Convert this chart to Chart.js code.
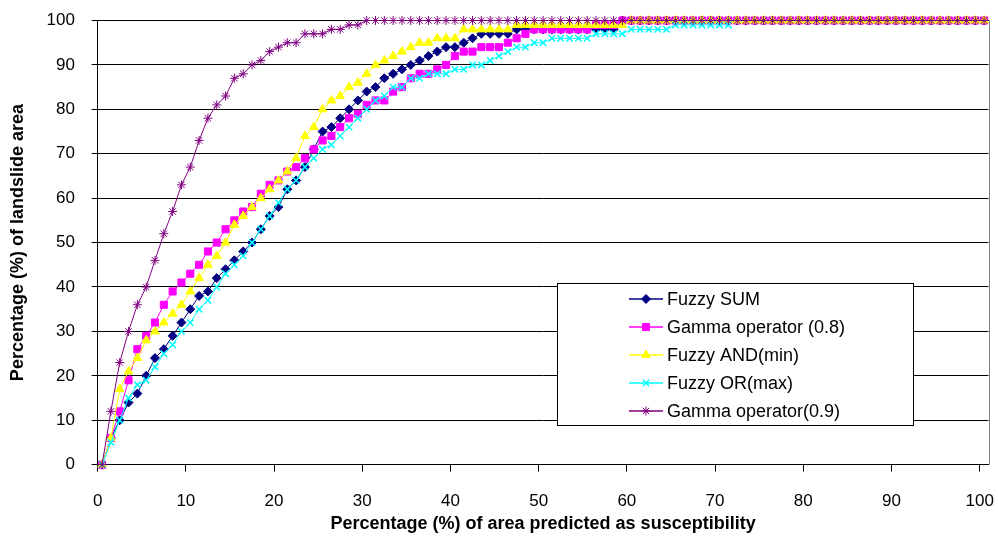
<!DOCTYPE html>
<html>
<head>
<meta charset="utf-8">
<title>Curvas de sucesso</title>
<script src="https://cdn.jsdelivr.net/npm/chart.js@4.4.1/dist/chart.umd.min.js"></script>
<style>
  html, body { margin: 0; padding: 0; background: #fff; }
  #wrap { width: 998px; height: 538px; }
</style>
</head>
<body>
<div id="wrap"><canvas id="curvas" width="998" height="538"></canvas></div>
<script>
// ========== DADOS ==========
const seriesLabels = [
  "Fuzzy SUM",
  "Gamma operator (0.8)",
  "Fuzzy AND(min)",
  "Fuzzy OR(max)",
  "Gamma operator(0.9)",
];

const xTickValues = [0, 10, 20, 30, 40, 50, 60, 70, 80, 90, 100];
const yTickValues = [0, 10, 20, 30, 40, 50, 60, 70, 80, 90, 100];

// one value per 1% class of predicted area (0..100)
const fuzzySum = [
  0, 6, 10, 14, 16, 20, 24, 26, 29, 32,
  35, 38, 39, 42, 44, 46, 48, 50, 53, 56,
  58, 62, 64, 67, 71, 75, 76, 78, 80, 82,
  84, 85, 87, 88, 89, 90, 91, 92, 93, 94,
  94, 95, 96, 97, 97, 97, 97, 98, 98, 98,
  98, 98, 98, 98, 98, 98, 98, 98, 98, 100,
  100, 100, 100, 100, 100, 100, 100, 100, 100, 100,
  100, 100, 100, 100, 100, 100, 100, 100, 100, 100,
  100, 100, 100, 100, 100, 100, 100, 100, 100, 100,
  100, 100, 100, 100, 100, 100, 100, 100, 100, 100,
  100,
];

const gamma08 = [
  0, 6, 12, 19, 26, 29, 32, 36, 39, 41,
  43, 45, 48, 50, 53, 55, 57, 58, 61, 63,
  64, 66, 67, 69, 71, 73, 74, 76, 78, 79,
  81, 82, 82, 84, 85, 87, 88, 88, 89, 90,
  92, 93, 93, 94, 94, 94, 95, 96, 97, 98,
  98, 98, 98, 98, 98, 98, 99, 99, 99, 100,
  100, 100, 100, 100, 100, 100, 100, 100, 100, 100,
  100, 100, 100, 100, 100, 100, 100, 100, 100, 100,
  100, 100, 100, 100, 100, 100, 100, 100, 100, 100,
  100, 100, 100, 100, 100, 100, 100, 100, 100, 100,
  100,
];

const fuzzyAnd = [
  0, 6, 17, 21, 24, 28, 30, 32, 34, 36,
  39, 42, 45, 47, 50, 54, 56, 58, 60, 62,
  64, 66, 69, 74, 76, 80, 82, 83, 85, 86,
  88, 90, 91, 92, 93, 94, 95, 95, 96, 96,
  96, 98, 98, 98, 98, 98, 98, 99, 99, 99,
  99, 99, 99, 99, 99, 99, 99, 99, 99, 99,
  100, 100, 100, 100, 100, 100, 100, 100, 100, 100,
  100, 100, 100, 100, 100, 100, 100, 100, 100, 100,
  100, 100, 100, 100, 100, 100, 100, 100, 100, 100,
  100, 100, 100, 100, 100, 100, 100, 100, 100, 100,
  100,
];

// this one stops at about 72 %
const fuzzyOr = [
  0, 5, 10, 15, 18, 19, 22, 25, 27, 30,
  32, 35, 37, 40, 43, 45, 47, 50, 53, 56,
  59, 62, 64, 67, 69, 71, 72, 74, 76, 78,
  80, 82, 83, 85, 85, 87, 87, 88, 88, 88,
  89, 89, 90, 90, 91, 92, 93, 94, 94, 95,
  95, 96, 96, 96, 96, 96, 97, 97, 97, 97,
  98, 98, 98, 98, 98, 99, 99, 99, 99, 99,
  99, 99,
];

const gamma09 = [
  0, 12, 23, 30, 36, 40, 46, 52, 57, 63,
  67, 73, 78, 81, 83, 87, 88, 90, 91, 93,
  94, 95, 95, 97, 97, 97, 98, 98, 99, 99,
  100, 100, 100, 100, 100, 100, 100, 100, 100, 100,
  100, 100, 100, 100, 100, 100, 100, 100, 100, 100,
  100, 100, 100, 100, 100, 100, 100, 100, 100, 100,
  100, 100, 100, 100, 100, 100, 100, 100, 100, 100,
  100, 100, 100, 100, 100, 100, 100, 100, 100, 100,
  100, 100, 100, 100, 100, 100, 100, 100, 100, 100,
  100, 100, 100, 100, 100, 100, 100, 100, 100, 100,
  100,
];

const FONTE = "'Liberation Sans', Arial, sans-serif";

// each value sits in the middle of its 1% class
function paraPontos(valores) {
  return valores.map((v, i) => ({ x: i + 0.5, y: v }));
}

// ========== LEGENDA DENTRO DO GRAFICO + BORDA DIREITA ==========
const legendaCaixa = {
  id: "legendaCaixa",
  afterDatasetsDraw(chart) {
    const ctx = chart.ctx;
    const area = chart.chartArea;
    ctx.save();

    // borda direita cinza da area do grafico
    ctx.strokeStyle = "#808080";
    ctx.lineWidth = 1;
    ctx.beginPath();
    ctx.moveTo(Math.round(area.right) + 0.5, area.top);
    ctx.lineTo(Math.round(area.right) + 0.5, area.bottom);
    ctx.stroke();

    const x0 = 557.5, y0 = 283.5, w = 356, h = 142;
    ctx.fillStyle = "#fff";
    ctx.fillRect(x0, y0, w, h);
    ctx.strokeStyle = "#000";
    ctx.strokeRect(x0, y0, w, h);

    const desenhaPonto = Chart.helpers && Chart.helpers.drawPoint;
    chart.data.datasets.forEach((ds, i) => {
      const y = 299 + i * 28;
      ctx.strokeStyle = ds.borderColor;
      ctx.lineWidth = 1.5;
      ctx.beginPath();
      ctx.moveTo(629, y);
      ctx.lineTo(663, y);
      ctx.stroke();

      if (desenhaPonto) {
        ctx.fillStyle = ds.pointBackgroundColor;
        ctx.strokeStyle = ds.pointBorderColor;
        ctx.lineWidth = ds.pointBorderWidth;
        desenhaPonto(ctx, {
          pointStyle: ds.pointStyle,
          radius: ds.pointRadius,
          rotation: 0,
          borderWidth: ds.pointBorderWidth,
        }, 646, y);
      }

      ctx.fillStyle = "#000";
      ctx.font = "18px " + FONTE;
      ctx.textAlign = "left";
      ctx.textBaseline = "middle";
      ctx.fillText(ds.label, 667, y + 1);
    });
    ctx.restore();
  },
};

// ========== GRAFICO ==========
function criarGrafico() {
  const ctx = document.getElementById("curvas").getContext("2d");

  const estilos = [
    { cor: "#000080", forma: "rectRot", raio: 4.5, borda: 1, fundo: "#000080" },
    { cor: "#FF00FF", forma: "rect", raio: 5, borda: 1, fundo: "#FF00FF" },
    { cor: "#FFFF00", forma: "triangle", raio: 5, borda: 1, fundo: "#FFFF00" },
    { cor: "#00FFFF", forma: "crossRot", raio: 4.5, borda: 1.5, fundo: "#00FFFF" },
    { cor: "#800080", forma: "star", raio: 4.5, borda: 1, fundo: "#800080" },
  ];
  const valores = [fuzzySum, gamma08, fuzzyAnd, fuzzyOr, gamma09];

  const datasets = valores.map((serie, i) => ({
    label: seriesLabels[i],
    data: paraPontos(serie),
    borderColor: estilos[i].cor,
    backgroundColor: estilos[i].fundo,
    borderWidth: 1,
    pointStyle: estilos[i].forma,
    pointRadius: estilos[i].raio,
    pointBackgroundColor: estilos[i].fundo,
    pointBorderColor: estilos[i].cor,
    pointBorderWidth: estilos[i].borda,
    tension: 0,
    clip: false,
    order: valores.length - i, // the last series is drawn on top
  }));

  new Chart(ctx, {
    type: "line",
    data: { datasets: datasets },
    plugins: [legendaCaixa],
    options: {
      responsive: false,
      animation: false,
      layout: { padding: { top: 20.5, right: 9.5, bottom: 0, left: 0 } },
      plugins: {
        legend: { display: false },
        tooltip: { enabled: false },
      },
      scales: {
        x: {
          type: "linear",
          min: 0,
          max: 101,
          afterBuildTicks: (axis) => {
            axis.ticks = xTickValues.map((v) => ({ value: v }));
          },
          ticks: {
            autoSkip: false,
            maxRotation: 0,
            color: "#000",
            padding: 3,
            // tall line box pushes the labels down like the original
            font: { family: FONTE, size: 17, lineHeight: 3.12 },
          },
          grid: {
            drawOnChartArea: false,
            drawTicks: true,
            tickLength: 7,
            color: "#000",
          },
          border: { color: "#000", width: 1 },
          title: {
            display: true,
            text: "Percentage (%) of area predicted as susceptibility",
            color: "#000",
            font: { family: FONTE, size: 18, weight: "bold" },
            padding: { top: -17.3, bottom: 3 },
          },
        },
        y: {
          min: 0,
          max: 100,
          afterBuildTicks: (axis) => {
            axis.ticks = yTickValues.map((v) => ({ value: v }));
          },
          ticks: {
            color: "#000",
            padding: 16.7,
            font: { family: FONTE, size: 17, lineHeight: 0.4 },
          },
          grid: {
            color: "#000",
            lineWidth: 1,
            tickLength: 6,
          },
          border: { color: "#000", width: 1 },
          title: {
            display: true,
            text: "Percentage (%) of landslide area",
            color: "#000",
            font: { family: FONTE, size: 18, weight: "bold" },
            padding: { top: 7, bottom: 1.3 },
          },
        },
      },
    },
  });
}

document.addEventListener("DOMContentLoaded", function () {
  criarGrafico();
});
</script>
</body>
</html>
